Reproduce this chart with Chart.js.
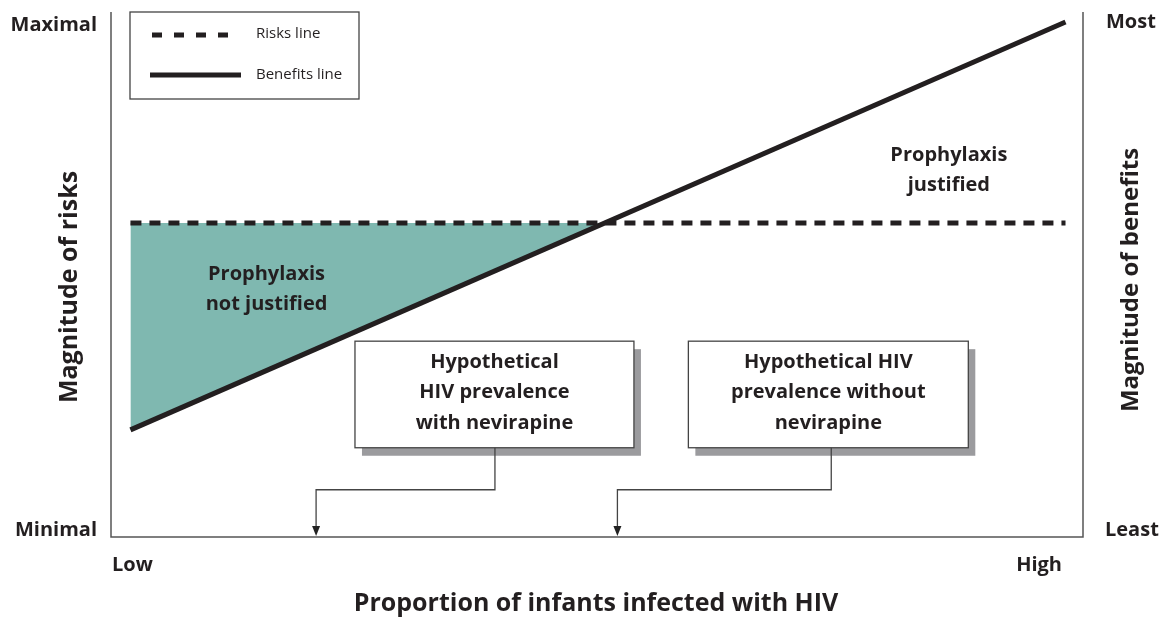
<!DOCTYPE html>
<html>
<head>
<meta charset="utf-8">
<script src="https://cdn.jsdelivr.net/npm/chart.js@4.4.0/dist/chart.umd.min.js"></script>
<style>
  html, body { margin: 0; padding: 0; background: #fff; }
  #wrap { width: 1166px; height: 619px; position: relative; }
</style>
</head>
<body>
<div id="wrap"><canvas id="chart"></canvas></div>
<script>
// Data (x: proportion infected 0-100, y: magnitude 0-100)
const seriesNames = ["Risks line", "Benefits line"];
const risksX = [2, 98.2];
const risksY = [59.8, 59.8];
const benefitsX = [2, 98.2];
const benefitsY = [20.4, 98.1];
// crossing point of the two lines (where the shaded area ends)
const crossX = [2, 50.8];
const crossY = [20.4, 59.8];

const xTickLabels = ["Low", "High"];
const leftTickLabels = ["Minimal", "Maximal"];
const rightTickLabels = ["Least", "Most"];
const xTitle = "Proportion of infants infected with HIV";
const leftTitle = "Magnitude of risks";
const rightTitle = "Magnitude of benefits";

const regionLabels = [
  { text: ["Prophylaxis", "not justified"], x: 16, y: 50 },
  { text: ["Prophylaxis", "justified"], x: 86.2, y: 72.8 }
];
const calloutText = [
  ["Hypothetical", "HIV prevalence", "with nevirapine"],
  ["Hypothetical HIV", "prevalence without", "nevirapine"]
];
// callout boxes: [x0, x1, yTop, yBottom], stem x, arrow target x
const calloutBoxes = [[25.1, 53.8, 37.3, 17.0], [59.4, 88.2, 37.3, 17.0]];
const calloutStemX = [39.5, 74.1];
const calloutArrowX = [21.1, 52.1];
const calloutElbowY = 9.0;

const INK = "#231f20";
const TEAL = "#7fb8b0";
const FONT = "'Open Sans', 'DejaVu Sans', sans-serif";

const toPts = (xs, ys) => xs.map((x, i) => ({ x: x, y: ys[i] }));

// Draws axes, labels, legend and callouts
const decorPlugin = {
  id: "decor",
  afterDatasetsDraw(chart) {
    const ctx = chart.ctx;
    const a = chart.chartArea;
    const xs = chart.scales.x, ys = chart.scales.y;
    ctx.save();

    // axis frame (no top)
    ctx.strokeStyle = "#555";
    ctx.lineWidth = 1.5;
    ctx.beginPath();
    ctx.moveTo(a.left, a.top);
    ctx.lineTo(a.left, a.bottom);
    ctx.lineTo(a.right, a.bottom);
    ctx.lineTo(a.right, a.top);
    ctx.stroke();

    ctx.fillStyle = INK;
    ctx.textBaseline = "middle";
    ctx.font = "bold 20px " + FONT;
    // left tick labels
    ctx.textAlign = "right";
    ctx.fillText(leftTickLabels[0], a.left - 14, a.bottom - 7);
    ctx.fillText(leftTickLabels[1], a.left - 14, a.top + 13);
    // right tick labels
    ctx.textAlign = "left";
    ctx.fillText(rightTickLabels[0], a.right + 22, a.bottom - 7);
    ctx.fillText(rightTickLabels[1], a.right + 23, a.top + 10);
    // x tick labels
    ctx.fillText(xTickLabels[0], a.left + 1, a.bottom + 28);
    ctx.textAlign = "right";
    ctx.fillText(xTickLabels[1], a.right - 21, a.bottom + 28);

    // titles
    ctx.font = "bold 25px " + FONT;
    ctx.textAlign = "center";
    ctx.fillText(xTitle, (a.left + a.right) / 2 - 1, a.bottom + 67);
    ctx.save();
    ctx.translate(a.left - 41, 287);
    ctx.rotate(-Math.PI / 2);
    ctx.fillText(leftTitle, 0, 0);
    ctx.restore();
    ctx.font = "bold 24px " + FONT;
    ctx.save();
    ctx.translate(a.right + 48, 280);
    ctx.rotate(-Math.PI / 2);
    ctx.fillText(rightTitle, 0, 0);
    ctx.restore();

    // region labels
    ctx.font = "bold 20px " + FONT;
    regionLabels.forEach((r) => {
      const px = xs.getPixelForValue(r.x), py = ys.getPixelForValue(r.y);
      r.text.forEach((t, i) => ctx.fillText(t, px, py + i * 30));
    });

    // callouts
    calloutBoxes.forEach((b, k) => {
      const x0 = xs.getPixelForValue(b[0]), x1 = xs.getPixelForValue(b[1]);
      const y0 = ys.getPixelForValue(b[2]), y1 = ys.getPixelForValue(b[3]);
      ctx.fillStyle = "#9b9b9e";
      ctx.fillRect(x0 + 7, y0 + 8, x1 - x0, y1 - y0);
      ctx.fillStyle = "#fff";
      ctx.fillRect(x0, y0, x1 - x0, y1 - y0);
      ctx.strokeStyle = "#444";
      ctx.lineWidth = 1.3;
      ctx.strokeRect(x0, y0, x1 - x0, y1 - y0);

      ctx.fillStyle = INK;
      ctx.font = "bold 20px " + FONT;
      ctx.textAlign = "center";
      calloutText[k].forEach((t, i) => ctx.fillText(t, (x0 + x1) / 2, y0 + 21 + i * 30.5));

      // connector with arrow
      const sx = xs.getPixelForValue(calloutStemX[k]);
      const ex = xs.getPixelForValue(calloutArrowX[k]);
      const ey = ys.getPixelForValue(calloutElbowY);
      ctx.strokeStyle = "#444";
      ctx.lineWidth = 1.3;
      ctx.beginPath();
      ctx.moveTo(sx, y1);
      ctx.lineTo(sx, ey);
      ctx.lineTo(ex, ey);
      ctx.lineTo(ex, a.bottom - 10);
      ctx.stroke();
      ctx.fillStyle = "#222";
      ctx.beginPath();
      ctx.moveTo(ex - 4, a.bottom - 11);
      ctx.lineTo(ex + 4, a.bottom - 11);
      ctx.lineTo(ex, a.bottom - 1);
      ctx.closePath();
      ctx.fill();
    });

    // legend box
    const lx = a.left + 19, ly = a.top;
    ctx.fillStyle = "#fff";
    ctx.fillRect(lx, ly, 229, 87);
    ctx.strokeStyle = "#444";
    ctx.lineWidth = 1.3;
    ctx.strokeRect(lx, ly, 229, 87);
    ctx.strokeStyle = INK;
    ctx.lineWidth = 5;
    ctx.setLineDash([10, 12]);
    ctx.beginPath();
    ctx.moveTo(lx + 22, ly + 23);
    ctx.lineTo(lx + 100, ly + 23);
    ctx.stroke();
    ctx.setLineDash([]);
    ctx.beginPath();
    ctx.moveTo(lx + 20, ly + 63);
    ctx.lineTo(lx + 111, ly + 63);
    ctx.stroke();
    ctx.fillStyle = INK;
    ctx.font = "15px " + FONT;
    ctx.textAlign = "left";
    ctx.fillText(seriesNames[0], lx + 126, ly + 22);
    ctx.fillText(seriesNames[1], lx + 126, ly + 63);

    ctx.restore();
  }
};

new Chart(document.getElementById("chart"), {
  type: "scatter",
  data: {
    datasets: [
      {
        label: "fill",
        data: toPts(crossX, crossY),
        showLine: true,
        borderWidth: 0,
        pointRadius: 0,
        backgroundColor: TEAL,
        fill: { value: 59.8 },
        order: 3
      },
      {
        label: seriesNames[0],
        data: toPts(risksX, risksY),
        showLine: true,
        borderColor: INK,
        borderWidth: 5,
        borderDash: [11, 8],
        borderCapStyle: "butt",
        pointRadius: 0,
        fill: false,
        order: 2
      },
      {
        label: seriesNames[1],
        data: toPts(benefitsX, benefitsY),
        showLine: true,
        borderColor: INK,
        borderWidth: 5,
        pointRadius: 0,
        fill: false,
        order: 1
      }
    ]
  },
  options: {
    responsive: true,
    maintainAspectRatio: false,
    animation: false,
    layout: { padding: { left: 111, right: 83, top: 12, bottom: 82 } },
    plugins: {
      legend: { display: false },
      tooltip: { enabled: false }
    },
    scales: {
      x: { type: "linear", min: 0, max: 100, display: false },
      y: { type: "linear", min: 0, max: 100, display: false }
    }
  },
  plugins: [decorPlugin]
});
</script>
</body>
</html>
